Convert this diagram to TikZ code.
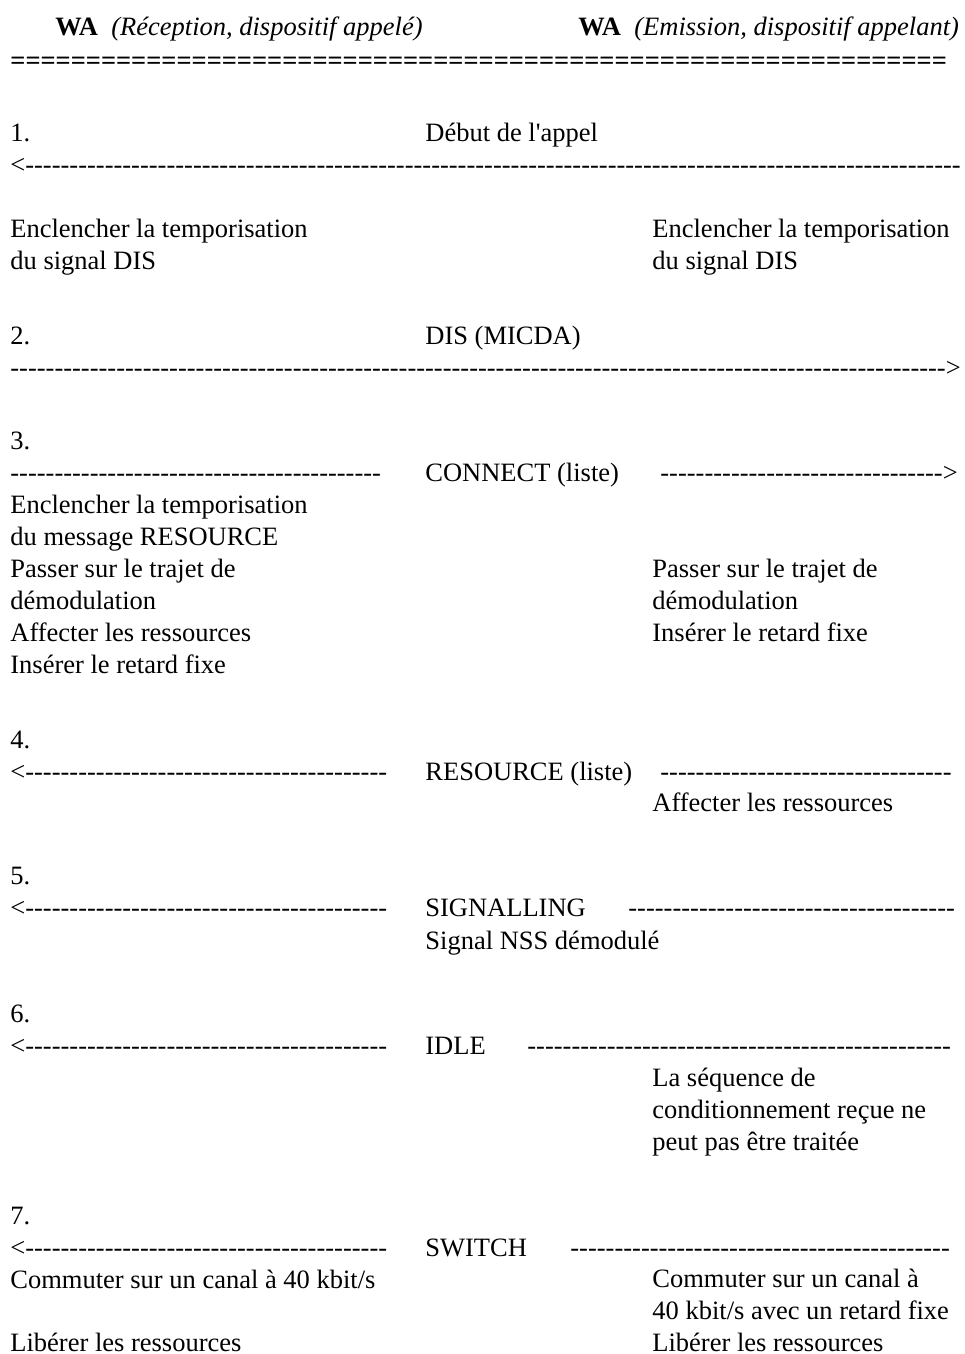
\documentclass[tikz,border=0pt]{standalone}
\usepackage{fontspec}
\setmainfont{Liberation Serif}[Ligatures=TeXOff]
\usepackage{tikz}
\tikzstyle{txt}=[anchor=base west, inner sep=0pt, align=left, font=\fontsize{13.25}{16}\selectfont]
\tikzstyle{entete}=[txt]
\tikzstyle{trait}=[txt]
\newcommand{\tirets}[1]{\foreach \i in {1,...,#1}{-}}
\newcommand{\egaux}[1]{\foreach \i in {1,...,#1}{=}}

\begin{document}
\begin{tikzpicture}[x=0.5pt, y=-0.5pt]
    \useasboundingbox (0,0) rectangle (964,1354);
    % --- en-tete ---
    \node[entete] (recv) at (55,36) {\textbf{WA}\hspace{0.5em}\textit{(Réception, dispositif appelé)}};
    \node[entete] (emis) at (578,36) {\textbf{WA}\hspace{0.5em}\textit{(Emission, dispositif appelant)}};
    \node[trait, font=\fontsize{13.25}{16}\selectfont\bfseries] (egal) at (10,70) {\egaux{62}};

    % --- 1. debut de l'appel ---
    % (les blocs de plusieurs lignes sont places par leur derniere ligne)
    \node[txt] (e1) at (10,141) {1.};
    \node[txt] (m1) at (425,141) {Début de l'appel};
    \node[trait] (f1) at (10,173) {<\tirets{106}};
    \node[txt] (g1) at (10,269) {Enclencher la temporisation\\du signal DIS};
    \node[txt] (d1) at (652,269) {Enclencher la temporisation\\du signal DIS};

    % --- 2. DIS ---
    \node[txt] (e2) at (10,344) {2.};
    \node[txt] (m2) at (425,344) {DIS (MICDA)};
    \node[trait] (f2) at (10,376) {\tirets{106}>};

    % --- 3. CONNECT ---
    \node[txt] (e3) at (10,449) {3.};
    \node[trait] (f3a) at (10,481) {\tirets{42}};
    \node[txt] (m3) at (425,481) {CONNECT (liste)};
    \node[trait] (f3b) at (660,481) {\tirets{32}>};
    \node[txt] (g3) at (10,673) {Enclencher la temporisation\\du message RESOURCE\\Passer sur le trajet de\\démodulation\\Affecter les ressources\\Insérer le retard fixe};
    \node[txt] (d3) at (652,641) {Passer sur le trajet de\\démodulation\\Insérer le retard fixe};

    % --- 4. RESOURCE ---
    \node[txt] (e4) at (10,748) {4.};
    \node[trait] (f4a) at (10,780) {<\tirets{41}};
    \node[txt] (m4) at (425,780) {RESOURCE (liste)};
    \node[trait] (f4b) at (660,780) {\tirets{33}};
    \node[txt] (d4) at (652,811) {Affecter les ressources};

    % --- 5. SIGNALLING ---
    \node[txt] (e5) at (10,884) {5.};
    \node[trait] (f5a) at (10,916) {<\tirets{41}};
    \node[txt] (m5) at (425,916) {SIGNALLING};
    \node[trait] (f5b) at (628,916) {\tirets{37}};
    \node[txt] (s5) at (425,949) {Signal NSS démodulé};

    % --- 6. IDLE ---
    \node[txt] (e6) at (10,1022) {6.};
    \node[trait] (f6a) at (10,1054) {<\tirets{41}};
    \node[txt] (m6) at (425,1054) {IDLE};
    \node[trait] (f6b) at (527,1054) {\tirets{48}};
    \node[txt] (d6) at (652,1150) {La séquence de\\conditionnement reçue ne\\peut pas être traitée};

    % --- 7. SWITCH ---
    \node[txt] (e7) at (10,1224) {7.};
    \node[trait] (f7a) at (10,1256) {<\tirets{41}};
    \node[txt] (m7) at (425,1256) {SWITCH};
    \node[trait] (f7b) at (570,1256) {\tirets{43}};
    \node[txt] (g7) at (10,1288) {Commuter sur un canal à 40 kbit/s};
    \node[txt] (g7b) at (10,1351) {Libérer les ressources};
    \node[txt] (d7) at (652,1351) {Commuter sur un canal à\\40 kbit/s avec un retard fixe\\Libérer les ressources};
\end{tikzpicture}
\end{document}
